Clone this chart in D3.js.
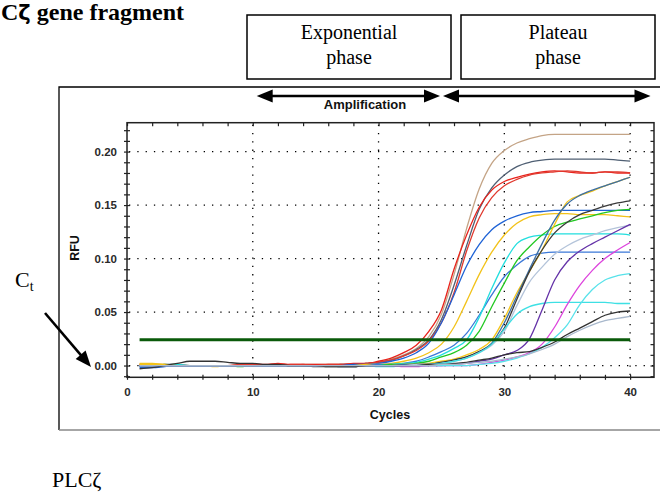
<!DOCTYPE html>
<html>
<head>
<meta charset="utf-8">
<script src="https://cdn.jsdelivr.net/npm/d3@7"></script>
<style>
  body { margin: 0; background: #fff; }
  svg { display: block; background: #fff; }
  .sans { font-family: Arial, "Liberation Sans", sans-serif; }
  .serif { font-family: "Times New Roman", "Liberation Serif", serif; fill: #000; }
  .axis text { font-family: Arial, "Liberation Sans", sans-serif; font-size: 11.5px; font-weight: bold; fill: #2a2a2a; }
  .axis line { stroke: #222; stroke-width: 1.2; }
  .axis path { display: none; }
  .grid { stroke: #000; stroke-width: 1.3; stroke-dasharray: 1.3, 7; }
  .curve { fill: none; stroke-width: 1.3; }
</style>
</head>
<body>
<svg class="chart" width="660" height="495"></svg>
<script>
"use strict";

// ---- data ----
var cycles = [1, 2, 3, 4, 5, 6, 7, 8, 9, 10, 11, 12, 13, 14, 15, 16, 17, 18, 19, 20,
  21, 22, 23, 24, 25, 26, 27, 28, 29, 30, 31, 32, 33, 34, 35, 36, 37, 38, 39, 40];

var wellNames = ['tan', 'slate', 'red1', 'red2', 'blue1', 'yellow1', 'blue2', 'cyan1', 'green',
  'yellow2', 'steel', 'black1', 'lightsteel', 'cyan2', 'purple', 'magenta', 'cyan3', 'black2', 'lightsteel2'];

var wellColors = ['#c4a486', '#4f5f73', '#e8231c', '#e0392e', '#1f63d6', '#f2c21a', '#3b78d8', '#22dede', '#22c822',
  '#f5c518', '#3d6fa3', '#3a3a3a', '#b4c4da', '#3ee0e4', '#6432a8', '#dd44dd', '#58e2ea', '#333333', '#a8b8cc'];

var tan = [0.001, 0.001, 0.001, 0.000, 0.000, 0.000, 0.000, 0.000, 0.000, 0.000,
  0.000, 0.000, 0.000, 0.001, 0.001, 0.001, 0.001, 0.001, 0.002, 0.003,
  0.006, 0.010, 0.016, 0.027, 0.048, 0.085, 0.128, 0.165, 0.189, 0.201,
  0.208, 0.212, 0.215, 0.216, 0.216, 0.216, 0.216, 0.216, 0.216, 0.216];
var slate = [0.000, 0.000, 0.000, 0.000, 0.000, 0.000, 0.000, 0.000, 0.000, 0.000,
  0.000, 0.000, 0.000, 0.000, 0.000, 0.000, 0.001, 0.001, 0.002, 0.003,
  0.005, 0.009, 0.015, 0.024, 0.043, 0.075, 0.112, 0.146, 0.166, 0.178,
  0.186, 0.190, 0.192, 0.193, 0.193, 0.193, 0.193, 0.193, 0.192, 0.191];
var red1 = [0.001, 0.001, 0.000, 0.000, 0.000, 0.000, 0.000, 0.000, 0.000, 0.001,
  0.001, 0.002, 0.001, 0.001, 0.001, 0.001, 0.001, 0.002, 0.002, 0.004,
  0.007, 0.012, 0.019, 0.032, 0.052, 0.090, 0.122, 0.148, 0.164, 0.172,
  0.176, 0.179, 0.181, 0.182, 0.181, 0.180, 0.180, 0.181, 0.180, 0.180];
var red2 = [0.000, 0.000, 0.001, 0.001, 0.000, 0.000, 0.000, 0.000, 0.001, 0.001,
  0.000, 0.000, 0.001, 0.001, 0.000, 0.001, 0.001, 0.001, 0.002, 0.003,
  0.005, 0.009, 0.014, 0.023, 0.040, 0.068, 0.107, 0.138, 0.157, 0.168,
  0.174, 0.178, 0.180, 0.181, 0.182, 0.181, 0.180, 0.181, 0.181, 0.180];
var blue1 = [-0.002, -0.002, -0.001, 0.000, 0.000, 0.000, 0.000, 0.000, 0.000, 0.000,
  0.000, 0.000, 0.000, 0.000, 0.000, 0.000, 0.000, 0.001, 0.001, 0.002,
  0.004, 0.007, 0.012, 0.021, 0.040, 0.066, 0.093, 0.113, 0.127, 0.135,
  0.140, 0.143, 0.144, 0.145, 0.145, 0.145, 0.145, 0.145, 0.145, 0.145];
var yellow1 = [0.002, 0.002, 0.001, 0.000, 0.000, 0.000, -0.001, 0.000, 0.000, 0.000,
  0.000, 0.000, 0.000, 0.000, 0.000, 0.000, 0.000, 0.000, 0.001, 0.001,
  0.002, 0.004, 0.007, 0.012, 0.020, 0.036, 0.060, 0.085, 0.106, 0.122,
  0.133, 0.139, 0.141, 0.142, 0.142, 0.141, 0.141, 0.141, 0.140, 0.139];
var blue2 = [-0.001, -0.001, 0.000, 0.000, 0.000, 0.000, 0.000, 0.000, 0.000, 0.000,
  0.000, 0.000, 0.000, 0.000, 0.000, 0.000, 0.000, 0.000, 0.000, 0.001,
  0.001, 0.002, 0.004, 0.008, 0.013, 0.019, 0.030, 0.047, 0.066, 0.083,
  0.094, 0.102, 0.105, 0.106, 0.106, 0.106, 0.106, 0.106, 0.106, 0.106];
var cyan1 = [0.000, 0.000, 0.001, 0.001, 0.000, 0.000, 0.000, 0.000, 0.000, 0.000,
  0.000, 0.000, 0.000, 0.000, 0.000, 0.000, 0.000, 0.000, 0.000, 0.000,
  0.001, 0.002, 0.003, 0.006, 0.010, 0.016, 0.024, 0.045, 0.072, 0.096,
  0.114, 0.120, 0.122, 0.123, 0.123, 0.123, 0.123, 0.123, 0.123, 0.122];
var green = [0.000, 0.000, 0.000, 0.000, 0.000, 0.000, 0.000, 0.000, -0.001, 0.000,
  0.000, 0.000, 0.000, 0.000, 0.000, 0.000, 0.000, 0.000, 0.000, 0.000,
  0.001, 0.001, 0.002, 0.004, 0.008, 0.012, 0.019, 0.032, 0.055, 0.077,
  0.098, 0.111, 0.122, 0.130, 0.134, 0.137, 0.140, 0.143, 0.145, 0.146];
var yellow2 = [0.001, 0.001, 0.001, 0.000, 0.000, 0.000, 0.000, 0.000, 0.000, 0.000,
  0.000, 0.000, 0.000, 0.000, 0.000, 0.000, 0.000, 0.000, 0.000, 0.000,
  0.000, 0.001, 0.001, 0.002, 0.004, 0.006, 0.010, 0.015, 0.024, 0.044,
  0.068, 0.088, 0.108, 0.132, 0.153, 0.159, 0.163, 0.168, 0.172, 0.176];
var steel = [0.000, 0.000, 0.000, 0.000, 0.000, 0.000, 0.000, 0.000, 0.000, 0.000,
  0.000, 0.000, 0.000, 0.000, 0.000, 0.000, -0.001, -0.001, 0.000, 0.000,
  0.000, 0.001, 0.001, 0.001, 0.003, 0.005, 0.008, 0.013, 0.021, 0.040,
  0.065, 0.090, 0.114, 0.136, 0.151, 0.159, 0.164, 0.168, 0.172, 0.176];
var black1 = [0.000, 0.000, 0.000, 0.000, 0.000, 0.000, 0.000, 0.000, 0.000, 0.000,
  0.000, 0.000, 0.000, 0.000, -0.001, -0.001, -0.001, -0.001, 0.000, 0.000,
  0.000, 0.000, 0.001, 0.001, 0.003, 0.005, 0.008, 0.013, 0.020, 0.035,
  0.062, 0.088, 0.108, 0.124, 0.134, 0.141, 0.145, 0.149, 0.152, 0.154];
var lightsteel = [0.000, 0.000, 0.000, 0.000, 0.000, 0.000, 0.000, 0.000, 0.000, 0.000,
  0.000, 0.000, 0.000, 0.000, 0.000, 0.000, 0.000, 0.000, 0.000, 0.000,
  0.000, 0.000, 0.001, 0.001, 0.002, 0.004, 0.007, 0.012, 0.019, 0.032,
  0.056, 0.078, 0.092, 0.104, 0.112, 0.118, 0.122, 0.126, 0.129, 0.131];
var cyan2 = [0.000, 0.000, 0.000, 0.000, 0.000, 0.000, 0.000, 0.000, 0.000, 0.000,
  0.000, 0.000, 0.000, 0.000, 0.000, 0.000, 0.000, 0.000, 0.000, -0.001,
  -0.001, 0.000, 0.000, 0.001, 0.002, 0.004, 0.007, 0.012, 0.020, 0.034,
  0.048, 0.055, 0.058, 0.059, 0.059, 0.059, 0.059, 0.059, 0.058, 0.058];
var purple = [0.000, 0.000, 0.000, 0.000, 0.000, 0.000, 0.000, 0.000, 0.000, 0.000,
  0.000, 0.000, 0.000, 0.000, 0.000, 0.000, 0.000, 0.000, 0.000, 0.000,
  0.000, 0.000, 0.000, 0.000, 0.000, 0.001, 0.002, 0.004, 0.006, 0.010,
  0.014, 0.025, 0.052, 0.080, 0.097, 0.107, 0.114, 0.120, 0.126, 0.132];
var magenta = [0.000, 0.000, 0.000, 0.000, 0.000, 0.000, 0.000, 0.000, 0.000, 0.000,
  0.000, 0.000, 0.000, 0.000, 0.000, 0.000, 0.000, 0.000, 0.000, 0.000,
  0.000, -0.001, -0.001, 0.000, 0.000, 0.000, 0.000, 0.001, 0.003, 0.005,
  0.008, 0.012, 0.020, 0.036, 0.057, 0.075, 0.089, 0.100, 0.108, 0.115];
var cyan3 = [0.000, 0.000, 0.000, 0.000, 0.000, 0.000, 0.000, 0.000, 0.000, 0.000,
  0.000, 0.000, 0.000, 0.000, 0.000, 0.000, 0.000, 0.000, 0.000, 0.000,
  0.000, 0.000, 0.000, 0.000, 0.000, 0.000, 0.000, 0.001, 0.002, 0.004,
  0.007, 0.011, 0.017, 0.026, 0.038, 0.057, 0.071, 0.080, 0.084, 0.086];
var black2 = [-0.003, -0.002, 0.000, 0.002, 0.004, 0.004, 0.004, 0.003, 0.002, 0.002,
  0.001, 0.001, 0.000, 0.000, 0.000, -0.001, -0.001, -0.001, 0.000, 0.000,
  0.000, 0.000, 0.000, 0.001, 0.001, 0.002, 0.003, 0.005, 0.007, 0.010,
  0.012, 0.013, 0.017, 0.022, 0.029, 0.035, 0.041, 0.047, 0.050, 0.051];
var lightsteel2 = [0.000, 0.000, 0.000, 0.000, 0.000, 0.000, 0.000, 0.000, 0.000, 0.000,
  0.000, 0.000, 0.000, 0.000, 0.000, 0.000, 0.000, 0.000, 0.000, 0.000,
  0.000, 0.000, 0.000, 0.000, 0.001, 0.001, 0.002, 0.003, 0.004, 0.006,
  0.008, 0.011, 0.015, 0.020, 0.027, 0.033, 0.038, 0.042, 0.044, 0.046];

var wellValues = [tan, slate, red1, red2, blue1, yellow1, blue2, cyan1, green,
  yellow2, steel, black1, lightsteel, cyan2, purple, magenta, cyan3, black2, lightsteel2];

var threshold = 0.024;
var thresholdCycles = [1, 40];

var xTickLabels = [0, 10, 20, 30, 40];
var yTickLabels = [0.00, 0.05, 0.10, 0.15, 0.20];

// ---- layout ----
var plot = {left: 127, right: 654, top: 122.7, bottom: 377.3};

var x = d3.scaleLinear().domain([0, 41.9]).range([plot.left, plot.right]);
var y = d3.scaleLinear().domain([-0.011, 0.227]).range([plot.bottom, plot.top]);

var svg = d3.select('.chart');

// outer frame round the instrument plot
svg.append('path')
  .attr('d', 'M59,430 L59,87 L662,87')
  .attr('fill', 'none').attr('stroke', '#000').attr('stroke-width', 1.3);
svg.append('line')
  .attr('x1', 59).attr('x2', 662).attr('y1', 430).attr('y2', 430)
  .attr('stroke', '#888').attr('stroke-width', 1.5);

// grid
var g = svg.append('g');
g.selectAll('.hgrid')
  .data(yTickLabels)
  .enter().append('line')
  .attr('class', 'grid')
  .attr('x1', plot.left + 2).attr('x2', plot.right)
  .attr('y1', function (d) { return y(d); })
  .attr('y2', function (d) { return y(d); });
g.selectAll('.vgrid')
  .data(xTickLabels.slice(1))
  .enter().append('line')
  .attr('class', 'grid')
  .attr('y1', plot.top + 2).attr('y2', plot.bottom)
  .attr('x1', function (d) { return x(d); })
  .attr('x2', function (d) { return x(d); });

// curves
var line = d3.line()
  .x(function (d) { return x(d[0]); })
  .y(function (d) { return y(d[1]); })
  .curve(d3.curveMonotoneX);

g.selectAll('.curve')
  .data(wellValues)
  .enter().append('path')
  .attr('class', 'curve')
  .attr('stroke', function (d, i) { return wellColors[i]; })
  .attr('d', function (d) {
    return line(cycles.map(function (c, k) { return [c, d[k]]; }));
  });

// threshold line
g.append('path')
  .attr('d', line(thresholdCycles.map(function (c) { return [c, threshold]; })))
  .attr('fill', 'none')
  .attr('stroke', '#0a5a0a')
  .attr('stroke-width', 3);

// axes
var xMinor = d3.range(0, 42, 2);
var yMinor = d3.range(-0.01, 0.2251, 0.01);

function noLabel() { return ''; }

svg.append('g').attr('class', 'axis')
  .attr('transform', 'translate(0,' + plot.bottom + ')')
  .call(d3.axisBottom(x).tickValues(xMinor).tickSize(2.5).tickFormat(noLabel));
svg.append('g').attr('class', 'axis')
  .attr('transform', 'translate(0,' + plot.bottom + ')')
  .call(d3.axisBottom(x).tickValues(xMinor).tickSize(-2.5).tickFormat(noLabel));
svg.append('g').attr('class', 'axis')
  .attr('transform', 'translate(0,' + plot.bottom + ')')
  .call(d3.axisBottom(x).tickValues(xTickLabels).tickSize(0).tickPadding(11).tickFormat(d3.format('d')));
svg.append('g').attr('class', 'axis')
  .attr('transform', 'translate(0,' + plot.top + ')')
  .call(d3.axisTop(x).tickValues(xMinor).tickSize(-3.5).tickFormat(noLabel));

svg.append('g').attr('class', 'axis')
  .attr('transform', 'translate(' + plot.left + ',0)')
  .call(d3.axisLeft(y).tickValues(yMinor).tickSize(3).tickFormat(noLabel));
svg.append('g').attr('class', 'axis')
  .attr('transform', 'translate(' + plot.left + ',0)')
  .call(d3.axisLeft(y).tickValues(yMinor).tickSize(-3).tickFormat(noLabel));
svg.append('g').attr('class', 'axis')
  .attr('transform', 'translate(' + plot.left + ',0)')
  .call(d3.axisLeft(y).tickValues(yTickLabels).tickSize(0).tickPadding(10).tickFormat(d3.format('.2f')));
svg.append('g').attr('class', 'axis')
  .attr('transform', 'translate(' + plot.right + ',0)')
  .call(d3.axisRight(y).tickValues(yMinor).tickSize(-3.5).tickFormat(noLabel));

// plot border
svg.append('rect')
  .attr('x', plot.left).attr('y', plot.top)
  .attr('width', plot.right - plot.left).attr('height', plot.bottom - plot.top)
  .attr('fill', 'none').attr('stroke', '#222').attr('stroke-width', 1.5);

// axis titles
svg.append('text').attr('class', 'sans')
  .attr('x', 390).attr('y', 419)
  .attr('text-anchor', 'middle')
  .attr('font-size', 12.5).attr('font-weight', 'bold').attr('fill', '#111')
  .text('Cycles');
svg.append('text').attr('class', 'sans')
  .attr('transform', 'translate(78.5,248) rotate(-90)')
  .attr('text-anchor', 'middle')
  .attr('font-size', 12.5).attr('font-weight', 'bold').attr('fill', '#111')
  .text('RFU');

// arrows
function arrow(x1, y1, x2, y2, both) {
  var ang = Math.atan2(y2 - y1, x2 - x1);
  var len = 16, half = 6.5;
  function head(tx, ty, a) {
    var bx = tx - len * Math.cos(a), by = ty - len * Math.sin(a);
    return 'M' + tx + ',' + ty +
      'L' + (bx - half * Math.sin(a)) + ',' + (by + half * Math.cos(a)) +
      'L' + (bx + half * Math.sin(a)) + ',' + (by - half * Math.cos(a)) + 'Z';
  }
  svg.append('line')
    .attr('x1', both ? x1 + 8 * Math.cos(ang) : x1).attr('y1', both ? y1 + 8 * Math.sin(ang) : y1)
    .attr('x2', x2 - 8 * Math.cos(ang)).attr('y2', y2 - 8 * Math.sin(ang))
    .attr('stroke', '#000').attr('stroke-width', 2.6);
  svg.append('path').attr('d', head(x2, y2, ang)).attr('fill', '#000');
  if (both) {
    svg.append('path').attr('d', head(x1, y1, ang + Math.PI)).attr('fill', '#000');
  }
}

arrow(256.7, 96, 440, 96, true);
arrow(443, 96, 650.5, 96, true);
arrow(45, 313, 91, 367, false);

svg.append('text').attr('class', 'sans')
  .attr('x', 365).attr('y', 109)
  .attr('text-anchor', 'middle')
  .attr('font-size', 13).attr('font-weight', 'bold').attr('fill', '#111')
  .text('Amplification');

// phase boxes
var phases = [
  {x: 247, w: 204, lines: ['Exponential', 'phase']},
  {x: 461, w: 194, lines: ['Plateau', 'phase']}
];
phases.forEach(function (p) {
  svg.append('rect')
    .attr('x', p.x).attr('y', 15).attr('width', p.w).attr('height', 64)
    .attr('fill', '#fff').attr('stroke', '#000').attr('stroke-width', 1.5);
  p.lines.forEach(function (t, i) {
    svg.append('text').attr('class', 'serif')
      .attr('x', p.x + p.w / 2).attr('y', 38.5 + i * 25)
      .attr('text-anchor', 'middle').attr('font-size', 20)
      .text(t);
  });
});

// title and labels
var title = svg.append('text').attr('class', 'serif')
  .attr('x', 1).attr('y', 20)
  .attr('font-size', 24).attr('font-weight', 'bold');
title.append('tspan').text('C');
title.append('tspan').attr('font-family', '"DejaVu Sans", sans-serif').attr('font-size', 21).text('ζ');
title.append('tspan').text(' gene fragment');

var ct = svg.append('text').attr('class', 'serif')
  .attr('x', 15).attr('y', 287).attr('font-size', 22);
ct.append('tspan').text('C');
ct.append('tspan').attr('font-size', 14).attr('dy', 4).text('t');

svg.append('text').attr('class', 'serif')
  .attr('x', 52).attr('y', 486.5).attr('font-size', 22)
  .text('PLCζ');
</script>
</body>
</html>
